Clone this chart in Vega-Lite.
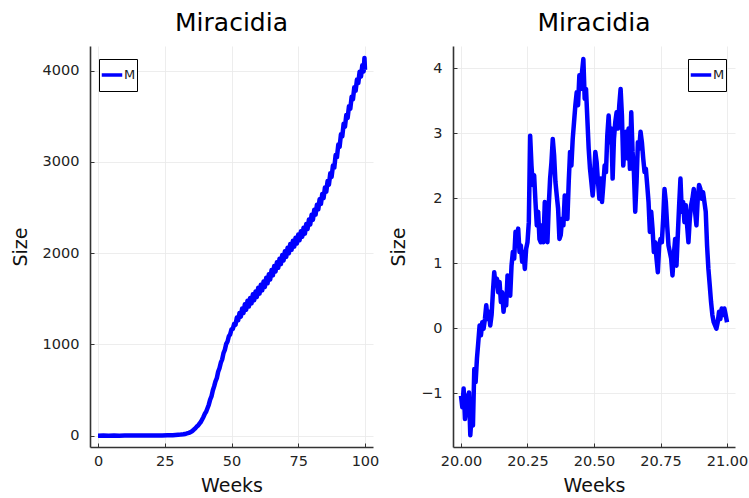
{
  "$schema": "https://vega.github.io/schema/vega-lite/v6.json",
  "background": "white",
  "padding": {"left": 11, "top": 11, "right": 2, "bottom": 2},
  "spacing": 10,
  "config": {
    "font": "DejaVu Sans",
    "view": {"stroke": null},
    "title": {"fontSize": 25, "fontWeight": "normal", "color": "#000", "offset": 10, "anchor": "middle"},
    "axis": {
      "domainColor": "#333", "domainWidth": 1.6,
      "tickColor": "#333", "tickSize": -4, "tickWidth": 1,
      "gridColor": "#e9e9e9", "gridWidth": 0.8,
      "labelFontSize": 14.5, "labelColor": "#222",
      "titleFontSize": 19, "titleFontWeight": "normal", "titleColor": "#111"
    },
    "axisX": {"labelPadding": 11.5, "titlePadding": 8},
    "axisY": {"labelPadding": 15, "titlePadding": 12},
    "legend": {
      "strokeColor": "#000", "strokeWidth": 1, "fillColor": "white", "padding": 1,
      "symbolType": "stroke", "symbolSize": 420, "symbolStrokeWidth": 3.5, "clipHeight": 30,
      "labelFontSize": 13, "labelColor": "#222", "labelOffset": 0, "title": null,
      "orient": "none"
    }
  },
  "datasets": {
    "full": [
      {"w":0,"s":0},{"w":2,"s":1},{"w":4,"s":0},{"w":6,"s":1},{"w":8,"s":0},{"w":10,"s":1},{"w":12,"s":1},{"w":14,"s":2},{"w":16,"s":1},{"w":18,"s":2},{"w":20,"s":1},{"w":22,"s":2},{"w":24,"s":3},{"w":26,"s":4},{"w":28,"s":6},{"w":29,"s":8},{"w":30,"s":10},{"w":31,"s":12},{"w":32,"s":16},{"w":33,"s":22},{"w":34,"s":30},{"w":34.5,"s":36},{"w":35,"s":45},{"w":35.5,"s":56},{"w":36,"s":70},{"w":36.5,"s":82},{"w":37,"s":100},{"w":37.5,"s":112},{"w":38,"s":132},{"w":38.5,"s":150},{"w":39,"s":178},{"w":39.5,"s":205},{"w":40,"s":240},{"w":40.5,"s":262},{"w":41,"s":300},{"w":41.5,"s":340},{"w":42,"s":395},{"w":42.5,"s":430},{"w":43,"s":495},{"w":43.5,"s":540},{"w":44,"s":595},{"w":44.5,"s":630},{"w":45,"s":700},{"w":45.5,"s":740},{"w":46,"s":800},{"w":46.5,"s":835},{"w":47,"s":905},{"w":47.5,"s":940},{"w":48,"s":1005},{"w":48.5,"s":1030},{"w":49,"s":1090},{"w":49.5,"s":1110},{"w":50,"s":1165},{"w":50.5,"s":1170},{"w":51,"s":1225},{"w":51.5,"s":1215},{"w":52,"s":1295},{"w":52.5,"s":1265},{"w":53,"s":1345},{"w":53.5,"s":1305},{"w":54,"s":1395},{"w":54.5,"s":1345},
      {"w":55,"s":1440},{"w":55.5,"s":1380},{"w":56,"s":1480},{"w":56.5,"s":1415},{"w":57,"s":1510},{"w":57.5,"s":1450},{"w":58,"s":1550},{"w":58.5,"s":1485},{"w":59,"s":1580},{"w":59.5,"s":1520},{"w":60,"s":1620},{"w":60.5,"s":1557},{"w":61,"s":1655},{"w":61.5,"s":1592},{"w":62,"s":1690},{"w":62.5,"s":1630},{"w":63,"s":1730},{"w":63.5,"s":1670},{"w":64,"s":1770},{"w":64.5,"s":1712},{"w":65,"s":1815},{"w":65.5,"s":1757},{"w":66,"s":1860},{"w":66.5,"s":1800},{"w":67,"s":1900},{"w":67.5,"s":1840},{"w":68,"s":1940},{"w":68.5,"s":1880},{"w":69,"s":1980},{"w":69.5,"s":1920},{"w":70,"s":2020},{"w":70.5,"s":1960},{"w":71,"s":2060},{"w":71.5,"s":2000},{"w":72,"s":2100},{"w":72.5,"s":2037},{"w":73,"s":2135},{"w":73.5,"s":2072},{"w":74,"s":2170},{"w":74.5,"s":2107},{"w":75,"s":2205},{"w":75.5,"s":2142},{"w":76,"s":2240},{"w":76.5,"s":2180},{"w":77,"s":2280},{"w":77.5,"s":2215},{"w":78,"s":2320},{"w":78.5,"s":2265},{"w":79,"s":2370},{"w":79.5,"s":2315},{"w":80,"s":2420},{"w":80.5,"s":2367},{"w":81,"s":2475},{"w":81.5,"s":2422},{"w":82,"s":2530},{"w":82.5,"s":2480},{"w":83,"s":2590},{"w":83.5,"s":2540},{"w":84,"s":2650},{"w":84.5,"s":2605},{"w":85,"s":2720},{"w":85.5,"s":2675},{"w":86,"s":2790},{"w":86.5,"s":2752},{"w":87,"s":2875},{"w":87.5,"s":2837},{"w":88,"s":2960},{"w":88.5,"s":2937},{"w":89,"s":3075},{"w":89.5,"s":3052},{"w":90,"s":3190},{"w":90.5,"s":3167},{"w":91,"s":3305},{"w":91.5,"s":3282},{"w":92,"s":3420},{"w":92.5,"s":3387},{"w":93,"s":3515},{"w":93.5,"s":3482},{"w":94,"s":3610},{"w":94.5,"s":3582},{"w":95,"s":3715},{"w":95.5,"s":3687},{"w":96,"s":3820},{"w":96.5,"s":3782},{"w":97,"s":3905},{"w":97.5,"s":3867},{"w":98,"s":3990},{"w":98.5,"s":3937},{"w":99,"s":4060},{"w":99.5,"s":3992},{"w":99.8,"s":4140},{"w":100,"s":4010}
    ],
    "zoom": [
      {"w":20.000,"s":-1.04},{"w":20.005,"s":-1.22},{"w":20.010,"s":-0.93},{"w":20.015,"s":-1.40},{"w":20.020,"s":-1.04},{"w":20.025,"s":-1.34},{"w":20.030,"s":-0.99},{"w":20.035,"s":-1.65},{"w":20.040,"s":-1.34},{"w":20.045,"s":-1.50},
      {"w":20.050,"s":-0.63},{"w":20.055,"s":-0.83},{"w":20.060,"s":-0.47},{"w":20.065,"s":-0.22},{"w":20.070,"s":0.04},{"w":20.075,"s":-0.11},{"w":20.080,"s":0.09},{"w":20.085,"s":-0.01},{"w":20.090,"s":0.14},{"w":20.095,"s":0.35},
      {"w":20.100,"s":0.14},{"w":20.105,"s":0.25},{"w":20.110,"s":0.04},{"w":20.115,"s":0.20},{"w":20.120,"s":0.55},{"w":20.125,"s":0.86},{"w":20.130,"s":0.66},{"w":20.135,"s":0.76},{"w":20.140,"s":0.55},{"w":20.145,"s":0.71},
      {"w":20.150,"s":0.40},{"w":20.155,"s":0.55},{"w":20.160,"s":0.25},{"w":20.165,"s":0.45},{"w":20.170,"s":0.35},{"w":20.175,"s":0.81},{"w":20.180,"s":0.55},{"w":20.185,"s":0.50},{"w":20.190,"s":0.96},{"w":20.195,"s":1.17},
      {"w":20.200,"s":1.07},{"w":20.205,"s":1.48},{"w":20.210,"s":1.27},{"w":20.215,"s":1.53},{"w":20.220,"s":1.17},{"w":20.225,"s":1.27},{"w":20.230,"s":1.02},{"w":20.235,"s":1.17},{"w":20.240,"s":0.91},{"w":20.245,"s":1.22},
      {"w":20.250,"s":1.32},{"w":20.255,"s":1.63},{"w":20.260,"s":2.96},{"w":20.265,"s":2.50},{"w":20.270,"s":2.20},{"w":20.275,"s":2.35},{"w":20.280,"s":1.94},{"w":20.285,"s":1.58},{"w":20.290,"s":1.79},{"w":20.295,"s":1.37},
      {"w":20.300,"s":1.32},{"w":20.305,"s":1.58},{"w":20.310,"s":1.32},{"w":20.315,"s":1.94},{"w":20.320,"s":1.79},{"w":20.325,"s":1.32},{"w":20.330,"s":1.89},{"w":20.335,"s":2.30},{"w":20.340,"s":2.55},{"w":20.345,"s":2.91},
      {"w":20.350,"s":2.66},{"w":20.355,"s":2.25},{"w":20.360,"s":2.04},{"w":20.365,"s":1.84},{"w":20.370,"s":1.37},{"w":20.375,"s":1.43},{"w":20.380,"s":1.68},{"w":20.385,"s":1.58},{"w":20.390,"s":2.04},{"w":20.395,"s":1.79},
      {"w":20.400,"s":1.68},{"w":20.405,"s":2.25},{"w":20.410,"s":2.71},{"w":20.415,"s":2.50},{"w":20.420,"s":2.91},{"w":20.425,"s":3.17},{"w":20.430,"s":3.43},{"w":20.435,"s":3.63},{"w":20.440,"s":3.43},{"w":20.445,"s":3.89},
      {"w":20.450,"s":3.68},{"w":20.455,"s":3.94},{"w":20.460,"s":4.14},{"w":20.465,"s":3.53},{"w":20.470,"s":3.68},{"w":20.475,"s":3.22},{"w":20.480,"s":2.76},{"w":20.485,"s":2.45},{"w":20.490,"s":2.25},{"w":20.495,"s":2.04},
      {"w":20.500,"s":2.30},{"w":20.505,"s":2.71},{"w":20.510,"s":2.55},{"w":20.515,"s":2.25},{"w":20.520,"s":1.99},{"w":20.525,"s":2.30},{"w":20.530,"s":1.94},{"w":20.535,"s":2.20},{"w":20.540,"s":2.50},{"w":20.545,"s":2.40},
      {"w":20.550,"s":2.96},{"w":20.555,"s":3.27},{"w":20.560,"s":2.86},{"w":20.565,"s":3.07},{"w":20.570,"s":2.30},{"w":20.575,"s":2.91},{"w":20.580,"s":3.17},{"w":20.585,"s":3.32},{"w":20.590,"s":3.07},{"w":20.595,"s":3.43},
      {"w":20.600,"s":3.68},{"w":20.605,"s":3.27},{"w":20.610,"s":2.50},{"w":20.615,"s":2.81},{"w":20.620,"s":3.02},{"w":20.625,"s":2.61},{"w":20.630,"s":3.07},{"w":20.635,"s":2.45},{"w":20.640,"s":3.32},{"w":20.645,"s":2.71},
      {"w":20.650,"s":2.40},{"w":20.655,"s":1.79},{"w":20.660,"s":2.25},{"w":20.665,"s":2.86},{"w":20.670,"s":2.76},{"w":20.675,"s":3.02},{"w":20.680,"s":2.86},{"w":20.685,"s":2.61},{"w":20.690,"s":2.40},{"w":20.695,"s":2.45},
      {"w":20.700,"s":2.20},{"w":20.705,"s":1.94},{"w":20.710,"s":1.48},{"w":20.715,"s":1.79},{"w":20.720,"s":1.53},{"w":20.725,"s":1.17},{"w":20.730,"s":1.32},{"w":20.735,"s":1.07},{"w":20.740,"s":0.86},{"w":20.745,"s":1.27},
      {"w":20.750,"s":1.37},{"w":20.755,"s":1.32},{"w":20.760,"s":1.68},{"w":20.765,"s":2.14},{"w":20.770,"s":1.94},{"w":20.775,"s":1.58},{"w":20.780,"s":1.27},{"w":20.785,"s":1.17},{"w":20.790,"s":1.07},{"w":20.795,"s":0.81},
      {"w":20.800,"s":1.12},{"w":20.805,"s":1.37},{"w":20.810,"s":0.96},{"w":20.815,"s":1.43},{"w":20.820,"s":1.89},{"w":20.825,"s":2.30},{"w":20.830,"s":1.79},{"w":20.835,"s":1.94},{"w":20.840,"s":1.63},{"w":20.845,"s":1.89},
      {"w":20.850,"s":1.58},{"w":20.855,"s":1.32},{"w":20.860,"s":1.68},{"w":20.865,"s":1.89},{"w":20.870,"s":1.99},{"w":20.875,"s":2.14},{"w":20.880,"s":1.79},{"w":20.885,"s":1.58},{"w":20.890,"s":1.99},{"w":20.895,"s":2.20},
      {"w":20.900,"s":2.14},{"w":20.905,"s":1.99},{"w":20.910,"s":2.09},{"w":20.915,"s":1.94},{"w":20.920,"s":1.79},{"w":20.925,"s":1.27},{"w":20.930,"s":0.91},{"w":20.935,"s":0.66},{"w":20.940,"s":0.40},{"w":20.945,"s":0.20},
      {"w":20.950,"s":0.09},{"w":20.955,"s":0.04},{"w":20.960,"s":-0.01},{"w":20.965,"s":0.09},{"w":20.970,"s":0.25},{"w":20.975,"s":0.14},{"w":20.980,"s":0.30},{"w":20.985,"s":0.20},{"w":20.990,"s":0.30},{"w":20.995,"s":0.20},
      {"w":21.000,"s":0.09}
    ]
  },
  "hconcat": [
    {
      "title": "Miracidia",
      "width": 283, "height": 401,
      "data": {"name": "full"},
      "mark": {"type": "line", "strokeWidth": 4.5, "strokeJoin": "round"},
      "encoding": {
        "x": {"field": "w", "type": "quantitative", "scale": {"domain": [-3, 103], "nice": false, "zero": false},
              "axis": {"title": "Weeks", "values": [0, 25, 50, 75, 100]}},
        "y": {"field": "s", "type": "quantitative", "scale": {"domain": [-124, 4271], "nice": false, "zero": false},
              "axis": {"title": "Size", "values": [0, 1000, 2000, 3000, 4000], "format": "d"}},
        "color": {"datum": "M", "scale": {"range": ["#0000ff"]},
                  "legend": {"legendX": 9, "legendY": 13}}
      }
    },
    {
      "title": "Miracidia",
      "width": 282, "height": 401,
      "data": {"name": "zoom"},
      "mark": {"type": "line", "strokeWidth": 4.5, "strokeJoin": "round"},
      "encoding": {
        "x": {"field": "w", "type": "quantitative", "scale": {"domain": [19.97, 21.03], "nice": false, "zero": false},
              "axis": {"title": "Weeks", "values": [20, 20.25, 20.5, 20.75, 21], "format": ".2f"}},
        "y": {"field": "s", "type": "quantitative", "scale": {"domain": [-1.83, 4.34], "nice": false, "zero": false},
              "axis": {"title": "Size", "values": [-1, 0, 1, 2, 3, 4], "format": "d"}},
        "color": {"datum": "M", "scale": {"range": ["#0000ff"]},
                  "legend": {"legendX": 235, "legendY": 13}}
      }
    }
  ],
  "resolve": {"scale": {"color": "independent"}, "legend": {"color": "independent"}}
}
